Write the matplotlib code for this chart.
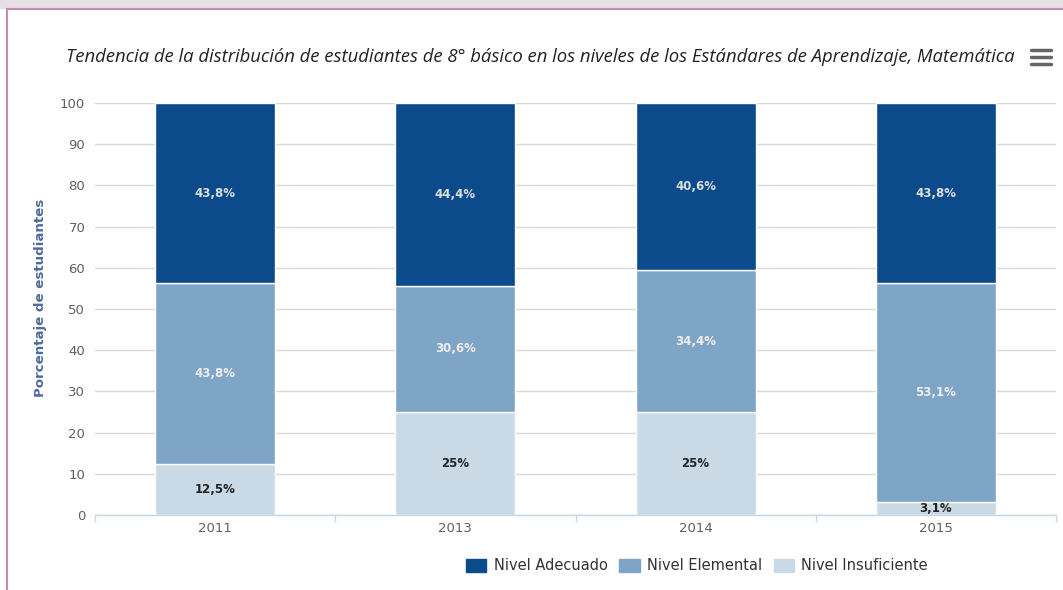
import matplotlib
matplotlib.use("Agg")
import matplotlib.pyplot as plt
from matplotlib.patches import Patch, Rectangle
from matplotlib.lines import Line2D
import numpy as np

years = ["2011", "2013", "2014", "2015"]
adecuado = [43.8, 44.4, 40.6, 43.8]
elemental = [43.8, 30.6, 34.4, 53.1]
insuficiente = [12.5, 25.0, 25.0, 3.1]
lab_adecuado = ["43,8%", "44,4%", "40,6%", "43,8%"]
lab_elemental = ["43,8%", "30,6%", "34,4%", "53,1%"]
lab_insuf = ["12,5%", "25%", "25%", "3,1%"]
series_names = ["Nivel Adecuado", "Nivel Elemental", "Nivel Insuficiente"]
colors = ["#0b4a8b", "#7fa5c6", "#c9d9e6"]
yticks = [0, 10, 20, 30, 40, 50, 60, 70, 80, 90, 100]

plt.rcParams['font.family'] = ['DejaVu Sans']

W, H = 1063, 590
fig = plt.figure(figsize=(W / 100, H / 100), dpi=100)

ax = fig.add_axes([95 / W, 1 - 515 / H, (1056 - 95) / W, (515 - 103) / H])

x = np.arange(len(years))
ins = np.array(insuficiente)
ele = np.array(elemental)
ade = np.array(adecuado)
tot = ins + ele + ade
insp = ins / tot * 100
elep = ele / tot * 100
adep = ade / tot * 100

bw = 0.5
ax.bar(x, insp, bw, color=colors[2], edgecolor="white", linewidth=1, zorder=3)
ax.bar(x, elep, bw, bottom=insp, color=colors[1], edgecolor="white", linewidth=1, zorder=3)
ax.bar(x, adep, bw, bottom=insp + elep, color=colors[0], edgecolor="white", linewidth=1, zorder=3)

for i in range(len(years)):
    ax.text(x[i], insp[i] / 2, lab_insuf[i], ha="center", va="center",
            fontsize=8.5, fontweight="bold", color="#222222", zorder=4)
    ax.text(x[i], insp[i] + elep[i] / 2, lab_elemental[i], ha="center", va="center",
            fontsize=8.5, fontweight="bold", color="#eeeeee", zorder=4)
    ax.text(x[i], insp[i] + elep[i] + adep[i] / 2, lab_adecuado[i], ha="center", va="center",
            fontsize=8.5, fontweight="bold", color="#dddddd", zorder=4)

ax.set_xlim(-0.5, len(years) - 0.5)
ax.set_ylim(0, 100)
ax.set_yticks(yticks)
ax.set_yticklabels([str(v) for v in yticks], fontsize=9.5, color="#606060")
ax.yaxis.grid(True, color="#d8d8d8", linewidth=1, zorder=0)
ax.set_axisbelow(True)
ax.tick_params(axis="y", length=0, pad=7)

ax.set_xticks(x)
ax.set_xticklabels(years, fontsize=9.5, color="#606060")
ax.set_xticks(np.arange(-0.5, len(years)), minor=True)
ax.tick_params(axis="x", which="major", length=0, pad=5)
ax.tick_params(axis="x", which="minor", length=5, color="#c8d6e6", width=1)

for s in ["top", "right", "left"]:
    ax.spines[s].set_visible(False)
ax.spines["bottom"].set_color("#c8d6e6")
ax.spines["bottom"].set_linewidth(1)

fig.text(41 / W, 1 - 298 / H, "Porcentaje de estudiantes", rotation=90, ha="center", va="center",
         fontsize=9.6, fontweight="bold", color="#4d6a9e")

fig.text(540 / W, 1 - 57 / H,
         "Tendencia de la distribución de estudiantes de 8° básico en los niveles de los Estándares de Aprendizaje, Matemática",
         ha="center", va="center", fontsize=13.3, style="italic", color="#222222",
         family=["Open Sans", "DejaVu Sans"])

# menu icon
for yy in [50, 57, 64]:
    fig.add_artist(Line2D([1031 / W, 1051 / W], [1 - yy / H, 1 - yy / H], color="#666666",
                          linewidth=2.5, solid_capstyle="round"))

# frame
fig.add_artist(Rectangle((0, 1 - 8 / H), 1, 8 / H, transform=fig.transFigure, color="#e8dfe6", zorder=0))
fig.add_artist(Line2D([7 / W, 1], [1 - 9 / H, 1 - 9 / H], color="#c58ab5", linewidth=1.5))
fig.add_artist(Line2D([7 / W, 7 / W], [0, 1 - 9 / H], color="#c58ab5", linewidth=1.5))

handles = [Patch(facecolor=c, edgecolor=c) for c in colors]
leg = fig.legend(handles, series_names, loc="center", bbox_to_anchor=(697 / W, 1 - 566 / H),
                 ncol=3, frameon=False, fontsize=10.5, handlelength=1.4, handleheight=1.0,
                 columnspacing=0.8, handletextpad=0.5, labelcolor="#333333")

fig.savefig("out.png", dpi=100)
